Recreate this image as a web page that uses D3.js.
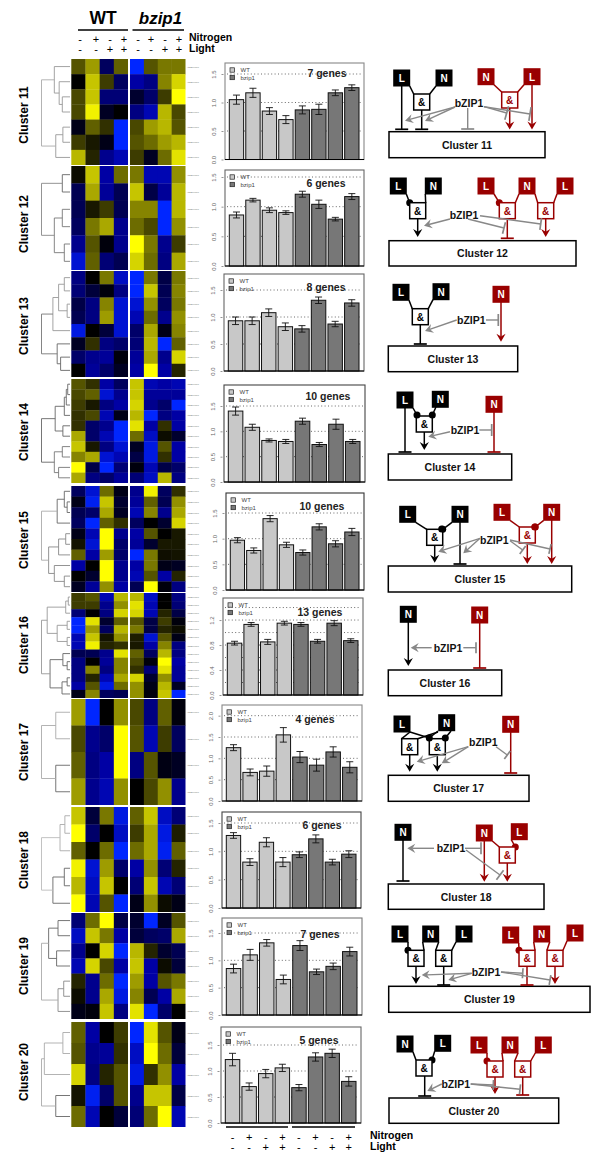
<!DOCTYPE html>
<html><head><meta charset="utf-8">
<script src="https://cdn.jsdelivr.net/npm/d3@7/dist/d3.min.js"></script>
<style>html,body{margin:0;padding:0;background:#fff}svg{display:block}text{font-family:"Liberation Sans",Arial,sans-serif}</style>
</head><body><svg id="c" width="600" height="1161"></svg>
<script>
// ---------- DATA ----------
const clusterIds = [11,12,13,14,15,16,17,18,19,20];
const geneCounts = [7,6,8,10,10,13,4,6,7,5];
const nitrogenSigns = ["-","+","-","+"];
const lightSigns = ["-","-","+","+"];
const legendNames = ["WT","bzip1"];

const heat11 = [[.35,.65,-.4,.4,-1,.35,.5,.5],[0,.8,.25,-.4,-.7,-.55,.55,.85],[.3,.8,-.5,-.5,-.2,-.45,.25,1],[.3,.95,-.15,0,-.55,-.75,.75,.3],[-.1,.4,.2,-1,.3,.65,.75,.35],[.25,.1,-.1,-1,.35,.45,.65,.75],[.75,.15,-.6,-.75,.25,-.15,.45,.9]];
const heat12 = [[.05,.8,-.7,.45,.5,-.75,-.75,.6],[-.35,.7,-.65,-.35,.8,-.3,-.65,.75],[-.35,.1,.25,-.35,.55,.55,-1,.75],[-.4,.5,.7,-.6,.45,.3,-1,.6],[-.6,.35,-.05,-.6,1,.5,-.6,.25],[-.85,.4,-.5,-.35,.85,.45,-.55,.7]];
const heat13 = [[-.55,0,.5,-.8,-1,.5,-.3,.5],[-.5,-.25,-.05,-.55,-1,.8,-.35,.55],[-.3,-.55,.55,-.85,-.85,.6,-.4,.5],[-.35,-.55,.65,-.85,-.75,.45,-.6,.6],[-.9,0,-.25,-.85,-.45,.7,-.1,.55],[-.15,.2,-.55,-.45,-.5,.75,-1,.4],[-.45,-.6,-.65,-.05,-.65,.7,-.6,.85],[0,-.65,-.45,-.15,-.7,1,-.7,.15]];
const heat14 = [[.35,.2,-.7,-.4,.8,-.75,-.7,-.75],[.3,.4,-.85,-.6,.8,-.65,-.65,-.65],[.25,.1,-.55,-.7,.85,-.6,-.45,-1],[.2,.3,-.75,-.1,.75,-1,-.55,-.7],[.2,-.45,-.6,-1,.9,-.7,.2,-.7],[.7,-.45,-.75,-1,.45,-.8,.05,-.2],[.8,.1,-.55,-.85,-.15,-.9,.35,-.7],[.55,.7,-.85,-.75,-.3,-.9,.2,-.7],[1,-.3,-1,-.5,-.05,-.75,-.3,-.45],[.7,-.55,-.45,-.65,-.5,-.8,.75,-.55]];
const heat15 = [[-.4,-.85,.45,-.1,-.6,.95,-.4,.2],[-.1,-.95,.8,-.2,-.65,.4,-.35,.6],[-.35,-.45,.7,-.15,-.75,.55,-.6,.7],[-.4,-1,.4,.2,-.4,0,-.2,.85],[-.1,-.75,1,-.6,-.7,.35,0,.1],[.08,-.85,1,-.45,-.65,-.2,.1,.1],[.4,-.7,.65,-.45,-1,.5,.06,.08],[-.7,0,1,-.6,-.7,.5,-.1,-.15],[0,-.2,1,-.6,-.75,.35,-.7,.15],[-.15,-.65,.6,-.7,-.35,1,-.05,-.55]];
const heat16 = [[.25,.35,-.75,.75,.75,-.8,0,-.55],[.25,.25,-.6,.6,.9,-.75,0,-.5],[-.5,0,-.55,.85,.85,-.75,.15,-.3],[-1,.9,-.2,.4,.35,-.3,.25,-.05],[-1,.65,-.4,.75,.5,-.3,.15,.05],[-.75,.8,.08,.6,.12,-.85,.35,-.1],[-.75,.95,.15,.2,.1,-.7,.55,-.55],[-.35,-.35,-.6,.9,.4,-.4,.75,-.55],[-.55,0,-.65,.55,.3,-.05,1,-.7],[-.55,.55,-.55,.55,.2,-.5,.9,-.65],[-.55,.15,-.75,.7,.85,-.2,.6,-.65],[-.7,.35,-.9,.45,.6,-.1,.75,-.15],[-.1,.55,-.4,-.35,.6,-.05,.8,-1]];
const heat17 = [[.65,-1,0,.6,.3,-.55,.4,-.05],[.3,-.6,-.45,1,.35,-.75,.25,-.4],[.4,-.55,-.7,1,-.55,.35,-.08,-.15],[.65,-.6,-.75,.6,0,.3,.6,-.6]];
const heat18 = [[.8,-.25,.5,-.9,.4,.8,-.8,-.5],[1,-.45,0,-.8,.25,.7,-.9,.12],[.4,0,.45,-1,.45,.7,-.95,.4],[.95,-.85,.65,-.45,-.7,.6,-.5,.15],[.75,-.8,.8,0,-.5,.8,-.75,-.5],[1,-.75,.35,-1,-.1,.6,.05,-.1]];
const heat19 = [[-.5,.45,1,-.3,-.2,-1,-.15,.35],[-.8,.8,.5,-.7,-.25,-.4,-.45,.7],[-.6,0,.85,-1,.75,.15,-.2,-.35],[-.75,.85,.3,-.7,.8,-.7,.05,-.25],[.15,-.6,.45,-1,.65,-.7,.35,.5],[.05,-.6,.7,-.9,.55,-.35,-.7,.7],[-.1,-.05,.8,-.55,.9,-1,-.45,0]];
const heat20 = [[.4,-.7,0,.25,-1,.9,.35,-.1],[.35,-.6,-.65,.2,-.8,1,.45,-.25],[.85,-.55,.15,.35,-.9,.2,.6,-.7],[.08,-.95,-.45,.35,-.6,.8,.8,-.3],[.45,-.75,0,-.25,-.5,.45,1,-.75]];

const tree11 = [1,[.55,0,[.38,1,[.27,2,3]]],[.5,[.25,4,5],6]];
const tree12 = [1,[.27,0,1],[.55,[.27,2,3],[.2,4,5]]];
const tree13 = [1,[.6,[.4,[.2,0,1],[.1,2,3]],4],[.45,5,[.33,6,7]]];
const tree14 = [1,[.52,[.2,[.13,[.08,0,1],2],3],[.25,4,5]],[.55,[.27,6,7],[.4,8,9]]];
const tree15 = [1,[.45,[.2,0,[.1,1,2]],3],[.75,[.4,[.15,4,5],6],[.55,7,[.2,8,9]]]];
const tree16 = [1,[.8,[.15,[.06,0,1],2],[.45,[.1,3,4],[.1,5,6]]],[.7,[.25,7,[.1,8,9]],[.28,[.1,10,11],12]]];
const tree17 = [1,[.5,0,1],[.5,2,3]];
const tree18 = [1,[.35,[.18,0,1],2],[.6,[.2,3,4],5]];
const tree19 = [1,[.75,[.42,0,1],[.47,2,3]],[.42,[.22,4,5],6]];
const tree20 = [1,[.9,[.25,0,1],2],[.5,3,4]];

const means11 = [1.05,1.17,.85,.70,.87,.88,1.17,1.26];
const errs11  = [.08,.08,.06,.07,.07,.09,.05,.05];
const means12 = [.86,1.11,.94,.90,1.21,1.04,.79,1.17];
const errs12  = [.05,.03,.04,.03,.05,.07,.03,.05];
const means13 = [.93,.93,1.08,.82,.78,1.31,.87,1.26];
const errs13  = [.07,.07,.07,.07,.06,.06,.05,.06];
const means14 = [1.40,1.08,.82,.80,1.20,.74,1.14,.80];
const errs14  = [.08,.06,.03,.04,.06,.04,.10,.04];
const means15 = [.97,.77,1.39,.88,.73,1.23,.90,1.13];
const errs15  = [.05,.05,.06,.05,.05,.06,.06,.07];
const means16 = [.83,1.13,.85,1.15,1.13,.86,1.15,.87];
const errs16  = [.03,.03,.04,.03,.03,.03,.04,.03];
const means17 = [1.25,.67,.70,1.55,1.03,.84,1.15,.79];
const errs17  = [.07,.08,.12,.17,.13,.14,.12,.13];
const means18 = [1.28,.81,1.16,.81,.94,1.22,.81,.95];
const errs18  = [.05,.06,.08,.08,.05,.07,.05,.06];
const means19 = [.85,1.10,1.32,.65,1.27,.79,.89,1.16];
const errs19  = [.08,.10,.06,.08,.09,.05,.06,.08];
const means20 = [1.22,.70,.95,1.06,.68,1.27,1.34,.80];
const errs20  = [.12,.07,.08,.07,.06,.08,.08,.09];

const ticksDefault = [0,.5,1,1.5];
const ticks16 = [0,.4,.8,1.2];
const grid16 = [.2,.4,.6,.8,1,1.2,1.4];
const ticks17 = [0,.5,1,1.5,2];

const allHeat  = [heat11,heat12,heat13,heat14,heat15,heat16,heat17,heat18,heat19,heat20];
const allTrees = [tree11,tree12,tree13,tree14,tree15,tree16,tree17,tree18,tree19,tree20];
const allMeans = [means11,means12,means13,means14,means15,means16,means17,means18,means19,means20];
const allErrs  = [errs11,errs12,errs13,errs14,errs15,errs16,errs17,errs18,errs19,errs20];

// ---------- LAYOUT ----------
const heatRanges = [[59,165],[166,270],[271,377],[379,483],[486,592],[593,698],[699,805],[807,912],[913,1019],[1022,1127]];
const labelY = [115,224,326,432,540,645,752,860,966,1072];
const frames = [
 {x0:225,x1:364,top:63,bottom:159.5,y15:74,gx:327,gy:76,stroke:"#888"},
 {x0:225,x1:364,top:170,bottom:266,y15:177,gx:326,gy:186,stroke:"#666"},
 {x0:224,x1:364,top:274,bottom:371,y15:290,gx:326,gy:290,stroke:"#666"},
 {x0:224,x1:365,top:385,bottom:482,y15:406,gx:328,gy:399,stroke:"#444"},
 {x0:226,x1:364,top:493,bottom:590,y15:513,gx:322,gy:509,stroke:"#333"},
 {x0:223,x1:363,top:598,bottom:695,y15:601.3,gx:320,gy:615,stroke:"#666"},
 {x0:222,x1:362,top:705,bottom:801,y15:737,gx:315,gy:722,stroke:"#888"},
 {x0:222,x1:361,top:812,bottom:908,y15:823,gx:322,gy:828,stroke:"#444"},
 {x0:222,x1:362,top:918,bottom:1015,y15:933,gx:320,gy:937,stroke:"#777"},
 {x0:221,x1:361,top:1027,bottom:1123,y15:1045,gx:319,gy:1043,stroke:"#666"}
];
const treeTones = [["#999","#999","#aaa"],["#666","#777","#888"],["#999","#666","#777"],["#666","#777","#666"],["#666","#888","#aaa"],["#999","#666","#999"],["#aaa","#666","#aaa"],["#aaa","#666","#bbb"],["#666","#888","#aaa"],["#aaa","#666","#aaa"]];

const svg = d3.select("#c");
const FONT_BOLD = "bold";
const colourScale = d3.scaleLinear().domain([-1,-.7,0,.7,1]).range(["#0026ff","#0000a4","#000000","#aaa800","#ffff00"]);

function txt(g,x,y,s,o={}){
  return g.append("text").attr("x",x).attr("y",y).text(s)
    .attr("font-size",o.size||10).attr("font-weight",o.weight||"normal")
    .attr("font-style",o.style||"normal")
    .attr("text-anchor",o.anchor||"middle").attr("dominant-baseline",o.base||"central")
    .attr("fill",o.fill||"#000");
}

// ---------- HEADER ----------
const head = svg.append("g");
txt(head,103,18,"WT",{size:17.5,weight:FONT_BOLD});
txt(head,160.5,18,"bzip1",{size:17,weight:FONT_BOLD,style:"italic"});
[[78,128],[132.5,184]].forEach(r=>head.append("line").attr("x1",r[0]).attr("x2",r[1]).attr("y1",30).attr("y2",30).attr("stroke","#000").attr("stroke-width",1.3));
[80,96,110,124,138,151,165,179].forEach((x,i)=>{
  txt(head,x,38.5,nitrogenSigns[i%4],{size:11});
  txt(head,x,48.7,lightSigns[i%4],{size:11});
});
txt(head,189,37,"Nitrogen",{size:10.5,weight:FONT_BOLD,anchor:"start"});
txt(head,189,47.5,"Light",{size:10.5,weight:FONT_BOLD,anchor:"start"});

// ---------- ROWS ----------
clusterIds.forEach((id,ci)=>{
  const g = svg.append("g").attr("class","cluster-"+id);
  txt(g,0,0,"Cluster "+id,{size:12,weight:FONT_BOLD})
    .attr("transform",`translate(24,${labelY[ci]}) rotate(-90)`).attr("x",0).attr("y",0);

  // heat map
  const rows = allHeat[ci], hr = heatRanges[ci];
  const yRow = d3.scaleBand().domain(d3.range(rows.length)).range(hr);
  const xWT = d3.scaleBand().domain(d3.range(4)).range([71.3,128]);
  const xBz = d3.scaleBand().domain(d3.range(4,8)).range([130,185.5]);
  const xCol = j => j<4 ? xWT(j) : xBz(j);
  rows.forEach((r,i)=>{
    g.selectAll(null).data(r).join("rect")
      .attr("x",(d,j)=>xCol(j)).attr("y",yRow(i))
      .attr("width",(d,j)=>(j<4?xWT:xBz).bandwidth()+(j===3||j===7?0:.3)).attr("height",yRow.bandwidth()+(i===rows.length-1?0:.3))
      .attr("fill",d=>colourScale(d));
    txt(g,187,yRow(i)+yRow.bandwidth()/2,"AtXgXXXXX",{size:2.2,anchor:"start",fill:"#333"});
  });

  // dendrogram
  const xH = d3.scaleLinear().domain([0,1]).range([70,41.5]);
  function walk(n,tone){
    if(typeof n==="number") return {x:xH(0),y:yRow(n)+yRow.bandwidth()/2};
    const a=walk(n[1],tone===null?treeTones[ci][0]:tone), b=walk(n[2],tone===null?treeTones[ci][1]:tone);
    const x=xH(n[0]), col=tone===null?treeTones[ci][2]:tone;
    const p=d3.path(); p.moveTo(a.x,a.y); p.lineTo(x,a.y); p.lineTo(x,b.y); p.lineTo(b.x,b.y);
    g.append("path").attr("d",p.toString()).attr("fill","none").attr("stroke",col).attr("stroke-width",.9);
    return {x,y:(a.y+b.y)/2};
  }
  walk(allTrees[ci],null);

  // bar chart
  const f = frames[ci], means = allMeans[ci], errs = allErrs[ci];
  const y = d3.scaleLinear().domain([0,1.5]).range([f.bottom,f.y15]);
  const x = d3.scaleBand().domain(d3.range(8)).range([f.x0+4.3,f.x1-5]).paddingInner(.13).paddingOuter(0);
  const tickVals = id===16?ticks16:(id===17?ticks17:ticksDefault);
  const gridVals = id===16?grid16:tickVals.slice(1);
  f.xScale = x;
  g.append("rect").attr("x",f.x0).attr("y",f.top).attr("width",f.x1-f.x0).attr("height",f.bottom-f.top)
    .attr("fill","#fff").attr("stroke",f.stroke).attr("stroke-width",1.1);
  g.selectAll(null).data(gridVals).join("line")
    .attr("x1",f.x0+2).attr("x2",f.x1-2).attr("y1",d=>y(d)).attr("y2",d=>y(d))
    .attr("stroke","#444").attr("stroke-width",.8).attr("stroke-dasharray","1 2.4");
  const ax = g.append("g").attr("transform",`translate(${f.x0-1.5},0)`)
    .call(d3.axisLeft(y).tickValues(tickVals).tickFormat(d3.format(".1f")).tickSize(2).tickPadding(0));
  ax.attr("font-family",null).attr("font-size",null);
  ax.select(".domain").remove();
  ax.selectAll("line").attr("stroke","#666").attr("stroke-width",.7);
  ax.selectAll("text").attr("font-size",6).attr("fill","#666")
    .attr("text-anchor","middle").attr("dy",0).attr("dominant-baseline","central")
    .attr("x",0).attr("y",0).attr("transform","translate(-10,0) rotate(-90)");
  g.selectAll(null).data(means).join("rect")
    .attr("x",(d,i)=>x(i)).attr("y",d=>y(d)).attr("width",x.bandwidth()).attr("height",d=>f.bottom-y(d))
    .attr("fill",(d,i)=>i<4?"#c8c8c8":"#777").attr("stroke","#111").attr("stroke-width",1);
  g.append("line").attr("x1",f.x0).attr("x2",f.x1).attr("y1",f.bottom).attr("y2",f.bottom).attr("stroke","#000").attr("stroke-width",1.2);
  means.forEach((m,i)=>{
    const c=x(i)+x.bandwidth()/2, p=d3.path(), hi=y(m+errs[i]), lo=y(m-errs[i]);
    p.moveTo(c-3.5,hi); p.lineTo(c+3.5,hi); p.moveTo(c,hi); p.lineTo(c,lo); p.moveTo(c-3.5,lo); p.lineTo(c+3.5,lo);
    g.append("path").attr("d",p.toString()).attr("fill","none").attr("stroke","#111").attr("stroke-width",.9);
  });
  legendNames.forEach((n,i)=>{
    const ly=f.top+7+i*7.5;
    g.append("rect").attr("x",f.x0+5).attr("y",ly-2.2).attr("width",4.6).attr("height",4.4)
      .attr("fill",i?"#777":"#c8c8c8").attr("stroke","#222").attr("stroke-width",.7);
    txt(g,f.x0+15.5,ly,n,{size:6,anchor:"start",fill:"#444"});
  });
  txt(g,f.gx,f.gy-3.5,geneCounts[ci]+" genes",{size:10.5,weight:FONT_BOLD,fill:"#222"});
});

// ---------- BOTTOM ANNOTATION ----------
const xb = frames[9].xScale, foot = svg.append("g");
[[226,288],[292,355]].forEach(r=>foot.append("line").attr("x1",r[0]).attr("x2",r[1]).attr("y1",1127).attr("y2",1127).attr("stroke","#000").attr("stroke-width",1.3));
d3.range(8).forEach(i=>{
  const c=xb(i)+xb.bandwidth()/2;
  txt(foot,c,1137,nitrogenSigns[i%4],{size:11});
  txt(foot,c,1147,lightSigns[i%4],{size:11});
});
txt(foot,370,1135,"Nitrogen",{size:10.5,weight:FONT_BOLD,anchor:"start"});
txt(foot,370,1146,"Light",{size:10.5,weight:FONT_BOLD,anchor:"start"});

// ---------- REGULATORY SCHEMATICS ----------
const K="#000", R="#990000", G="#888";
const sch = svg.append("g");
const ln=(a,b,c,d,col=K,w=1.5)=>sch.append("line").attr("x1",a).attr("y1",b).attr("x2",c).attr("y2",d).attr("stroke",col).attr("stroke-width",w);
function arr(a,b,c,d,col=K){
  const t=Math.atan2(d-b,c-a), L=8, W=4.6;
  ln(a,b,c-Math.cos(t)*5,d-Math.sin(t)*5,col,col===G?1.4:1.5);
  const pt=(l,s)=>[c-Math.cos(t)*l-Math.sin(t)*s, d-Math.sin(t)*l+Math.cos(t)*s];
  sch.append("path").attr("d",d3.line()([[c,d],pt(L,W),pt(L*.65,0),pt(L,-W)])+"Z").attr("fill",col);
}
function tb(a,b,c,d,col=K,w=6.5){
  const t=Math.atan2(d-b,c-a);
  ln(a,b,c,d,col,col===G?1.4:1.5);
  ln(c-Math.sin(t)*w,d+Math.cos(t)*w,c+Math.sin(t)*w,d-Math.cos(t)*w,col,1.7);
}
function sq(x,y,s,col=K){
  sch.append("rect").attr("x",x-8.5).attr("y",y-8.5).attr("width",17).attr("height",17).attr("fill",col);
  txt(sch,x,y+.3,s,{size:10,weight:FONT_BOLD,fill:"#fff"});
}
function amp(x,y,col=K){
  sch.append("rect").attr("x",x-8).attr("y",y-8).attr("width",16).attr("height",16).attr("fill","#fff").attr("stroke",col).attr("stroke-width",1.5);
  txt(sch,x,y+.3,"&",{size:10,weight:FONT_BOLD,fill:col});
}
function link(sx,sy,ax,ay,col=K,hasDot=false){
  const s=Math.sign(ax-sx)||1;
  ln(sx+s*8,sy+8,ax-s*8,ay-8,col);
  if(hasDot) sch.append("circle").attr("cx",ax-s*8).attr("cy",ay-8).attr("r",3.5).attr("fill",col);
}
function big(a,b,c,d,s){
  sch.append("rect").attr("x",a).attr("y",c).attr("width",b-a).attr("height",d-c).attr("fill","#fff").attr("stroke","#000").attr("stroke-width",1.5);
  txt(sch,(a+b)/2,(c+d)/2,s,{size:10.5,weight:FONT_BOLD,fill:"#111"});
}
const bz=(x,y)=>txt(sch,x,y,"bZIP1",{size:10.5,weight:FONT_BOLD,fill:"#111"});

// Cluster 11
big(389,545,131.7,157.7,"Cluster 11");
link(401.7,78,421.7,102); link(444,78,421.7,102);
link(486,76.7,509.7,100,R); link(532,76.7,509.7,100,R);
tb(401.7,86,401.7,129.3); tb(421.7,110,421.7,129.3);
arr(509.7,108,509.7,129.5,R); arr(532,85,532,129.5,R);
sq(401.7,78,"L"); sq(444,78,"N"); amp(421.7,102); sq(486,76.7,"N",R); sq(532,76.7,"L",R); amp(509.7,100,R);
arr(455,107,405,120.7,G); arr(455,107,425,121,G); tb(467.7,108,467.7,129,G); tb(484,106.7,506.7,113,G,7); tb(484,106.7,530,114,G,7); bz(469,103);

// Cluster 12
big(389,576,240.7,266,"Cluster 12");
link(398.3,186,417.7,210.7,K,true); link(433.3,186,417.7,210.7);
link(486,186,507.3,210.7,R,true); link(527,186,507.3,210.7,R); link(527,186,545.7,210.7,R); link(565,186,545.7,210.7,R);
arr(417.7,218,417.7,237); tb(507.3,218,507.3,238.3,R); arr(545.7,218,545.7,237,R);
sq(398.3,186,"L"); sq(433.3,186,"N"); amp(417.7,210.7); sq(486,186,"L",R); sq(527,186,"N",R); sq(565,186,"L",R); amp(507.3,210.7,R); amp(545.7,210.7,R);
arr(450,219,424,225.7,G); tb(468,219,504,228,G,6); tb(480,215.7,540.7,224,G,6); bz(464,215);

// Cluster 13
big(388.3,517.7,346,371.7,"Cluster 13");
link(401,292.3,420.3,316.7); link(441,291.7,420.3,316.7);
tb(420.3,324,420.3,344); arr(501,300,501,341.7,R);
sq(401,292.3,"L"); sq(441,291.7,"N"); amp(420.3,316.7); sq(501,294.3,"N",R);
arr(456.7,320,425,331,G); tb(486,320,498.3,320,G,6); bz(471.3,320);

// Cluster 14
big(388.3,511.7,454,480,"Cluster 14");
ln(417,415,413,408); ln(432.3,415,436,407);
tb(405,405,405,452); arr(424.3,431,424.3,450); tb(494,410,494,452,R);
sq(405,400,"L"); sq(440.3,399.3,"N"); amp(424.3,424); sq(494,404.3,"N",R);
[417,432.3].forEach(x=>sch.append("circle").attr("cx",x).attr("cy",415).attr("r",3.5).attr("fill",K));
arr(450,431.7,428.3,436.7,G); tb(479.3,430,491.7,430,G,6); bz(465,430);

// Cluster 15
big(388.3,571.7,566,592,"Cluster 15");
link(407.7,514.3,434.7,537.3); link(460,514.3,434.7,537.3,K,true);
link(502,512.3,527.3,535,R); link(551.7,512.3,527.3,535,R,true);
arr(434.7,545,434.7,562.7); tb(460,520,460,564); arr(527.3,543,527.3,564,R); arr(551.7,518,551.7,564,R);
sq(407.7,514.3,"L"); sq(460,514.3,"N"); amp(434.7,537.3); sq(502,512.3,"L",R); sq(551.7,512.3,"N",R); amp(527.3,535,R);
sch.selectAll(null).data([[441.7,529],[534.7,527]]).join("circle").attr("cx",d=>d[0]).attr("cy",d=>d[1]).attr("r",3.5).attr("fill",(d,i)=>i?R:K);
arr(480,538.3,438.3,551.7,G); arr(480,538.3,463.3,553.3,G); tb(510,540.7,522.7,550,G,5); tb(510,540,550,549,G,5); bz(494.3,540);

// Cluster 16
big(388.3,501.7,670,695.7,"Cluster 16");
arr(408.3,620,408.3,666); tb(479.7,620,479.7,668,R);
sq(408.3,614.3,"N"); sq(479.7,615,"N",R);
arr(431.7,647.7,410.7,647.7,G); tb(463.3,647.7,476,647.7,G,5.5); bz(448,647.7);

// Cluster 17
big(388.3,529,775.3,801.3,"Cluster 17");
link(402,724,409.7,746.7); ln(410,732,429.3,738); ln(438,731,429.3,738); ln(451,731,445.3,738); ln(438,732,417,739);
arr(409.7,755,409.7,771.7); arr(437.3,755,437.3,771.7); tb(510.7,730,510.7,773,R);
sq(402,724,"L"); sq(446.7,722.7,"N"); amp(409.7,746.7); amp(437.3,746.7); sq(510.7,724.3,"N",R);
[429.3,445.3].forEach(x=>sch.append("circle").attr("cx",x).attr("cy",738).attr("r",3.5).attr("fill",K));
arr(468.3,746.7,416.7,761.7,G); arr(468.3,746.7,441.7,763.3,G); tb(496,746.7,507.3,755,G,5); bz(483.3,742.3);

// Cluster 18
big(388.3,544,884,909.3,"Cluster 18");
tb(403,838,403,881); arr(484.3,838,484.3,881.7,R);
link(484.3,833,507.3,855,R); link(519.3,831.7,507.3,855,R,true); arr(507.3,863,507.3,881.7,R);
sq(403,832.3,"N"); sq(484.3,833,"N",R); sq(519.3,831.7,"L",R); amp(507.3,855,R);
arr(434,848.3,407.3,848.3,G); tb(465,848.3,481,848.3,G,6); tb(466,850,500,875,G,6); bz(451,848.3);

// Cluster 19
big(388.7,590,986.3,1012.3,"Cluster 19");
link(400,934,416,958.3,K,true); link(430.7,934,416,958.3); link(430.7,934,443.7,958.3); link(464,934,443.7,958.3);
link(510.7,935,527,958.3,R,true); link(541.7,934,527,958.3,R); link(541.7,934,555,958.3,R); link(575,933,555,958.3,R);
arr(416,966,416,984); tb(443.7,966,443.7,985); tb(527,966,527,985,R); arr(555,966,555,984,R);
sq(400,934,"L"); sq(430.7,934,"N"); sq(464,934,"L"); amp(416,958.3); amp(443.7,958.3);
sq(510.7,935,"L",R); sq(541.7,934,"N",R); sq(575,933,"L",R); amp(527,958.3,R); amp(555,958.3,R);
arr(471.7,973.3,421.7,975,G); arr(471.7,973.3,448.3,980,G); tb(501,972,522.7,973.3,G,5); tb(501,972,550,980,G,5); bz(486,972.3);

// Cluster 20
big(389,558.7,1098,1123.3,"Cluster 20");
link(405,1044,424,1068); link(442.7,1043.3,424,1068,K,true);
link(479,1045,495,1069,R,true); link(510,1045,495,1069,R); link(510,1045,522.7,1069,R); link(543.3,1045,522.7,1069,R);
tb(424.7,1076,424.7,1096); arr(495,1077,495,1094,R); tb(522.7,1077,522.7,1095,R);
sq(405,1044,"N"); sq(442.7,1043.3,"L"); amp(424,1068); sq(479,1045,"L",R); sq(510,1045,"N",R); sq(543.3,1045,"L",R); amp(495,1069,R); amp(522.7,1069,R);
arr(441.7,1084,427.3,1091,G); tb(470.7,1084,493.3,1085,G,5); tb(470.7,1084,520,1089.3,G,5); bz(455.7,1084);
</script></body></html>
